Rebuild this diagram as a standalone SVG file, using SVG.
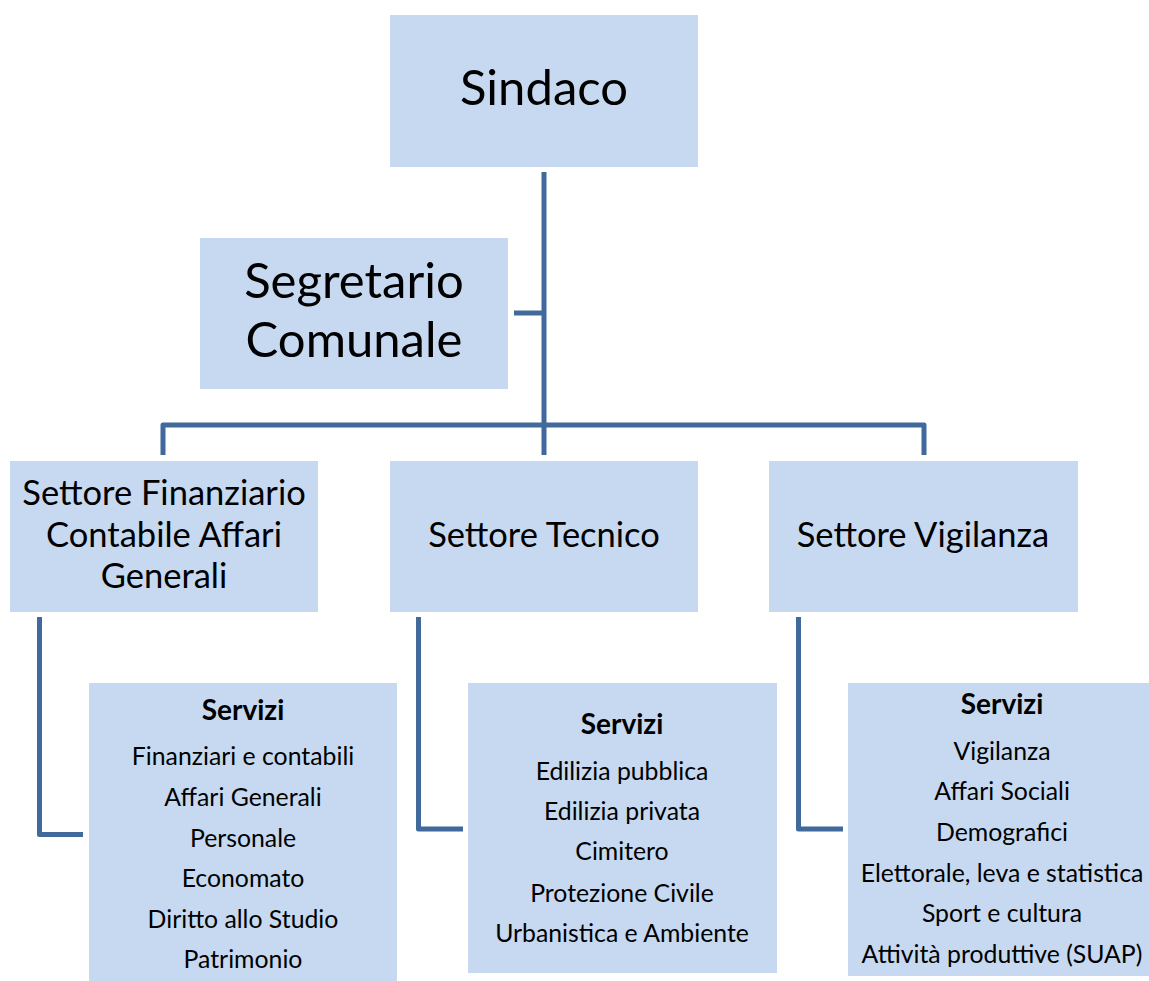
<svg xmlns="http://www.w3.org/2000/svg" width="1149" height="981" viewBox="0 0 1149 981">
<style>
.box{fill:#C6D9F0;}
.t{font-family:Lato,"Open Sans",sans-serif;fill:#000;text-anchor:middle;}
.big{font-size:49px;}
.mid{font-size:34.5px;}
.sm{font-size:24.8px;}
.hd{font-size:28px;font-weight:bold;}
.ln{fill:none;stroke:#41699B;stroke-width:5;stroke-linejoin:round;}
</style>
<rect width="1149" height="981" fill="#fff"/>
<g id="connectors">
<path class="ln" d="M544 172 V455"/>
<path class="ln" d="M514 313 H544"/>
<path class="ln" d="M163 455 V425 H924 V455"/>
<path class="ln" d="M39.5 617 V834.5 H83"/>
<path class="ln" d="M418.5 617 V829 H463"/>
<path class="ln" d="M798.5 617 V829 H843"/>
</g>
<g id="sindaco">
<rect class="box" x="390" y="15" width="308" height="152"/>
<text class="t big" x="544" y="105">Sindaco</text>
</g>
<g id="segretario">
<rect class="box" x="200" y="238" width="308" height="151"/>
<text class="t big" x="354" y="298">Segretario</text>
<text class="t big" x="354" y="357">Comunale</text>
</g>
<g id="settore-finanziario">
<rect class="box" x="10" y="461" width="308" height="151"/>
<text class="t mid" x="164" y="505">Settore Finanziario</text>
<text class="t mid" x="164" y="547">Contabile Affari</text>
<text class="t mid" x="164" y="588">Generali</text>
</g>
<g id="settore-tecnico">
<rect class="box" x="390" y="461" width="308" height="151"/>
<text class="t mid" x="544" y="547">Settore Tecnico</text>
</g>
<g id="settore-vigilanza">
<rect class="box" x="769" y="461" width="309" height="151"/>
<text class="t mid" x="923" y="547">Settore Vigilanza</text>
</g>
<g id="servizi-finanziario">
<rect class="box" x="89" y="683" width="308" height="298"/>
<text class="t hd" x="243" y="720">Servizi</text>
<text class="t sm" x="243" y="765">Finanziari e contabili</text>
<text class="t sm" x="243" y="806">Affari Generali</text>
<text class="t sm" x="243" y="847">Personale</text>
<text class="t sm" x="243" y="887">Economato</text>
<text class="t sm" x="243" y="928">Diritto allo Studio</text>
<text class="t sm" x="243" y="968">Patrimonio</text>
</g>
<g id="servizi-tecnico">
<rect class="box" x="468" y="683" width="309" height="290"/>
<text class="t hd" x="622" y="734">Servizi</text>
<text class="t sm" x="622" y="780">Edilizia pubblica</text>
<text class="t sm" x="622" y="820">Edilizia privata</text>
<text class="t sm" x="622" y="860">Cimitero</text>
<text class="t sm" x="622" y="902">Protezione Civile</text>
<text class="t sm" x="622" y="942">Urbanistica e Ambiente</text>
</g>
<g id="servizi-vigilanza">
<rect class="box" x="848" y="683" width="301" height="293"/>
<text class="t hd" x="1002" y="714">Servizi</text>
<text class="t sm" x="1002" y="760">Vigilanza</text>
<text class="t sm" x="1002" y="800">Affari Sociali</text>
<text class="t sm" x="1002" y="841">Demografici</text>
<text class="t sm" x="1002" y="882">Elettorale, leva e statistica</text>
<text class="t sm" x="1002" y="922">Sport e cultura</text>
<text class="t sm" x="1002" y="963">Attività produttive (SUAP)</text>
</g>
</svg>
